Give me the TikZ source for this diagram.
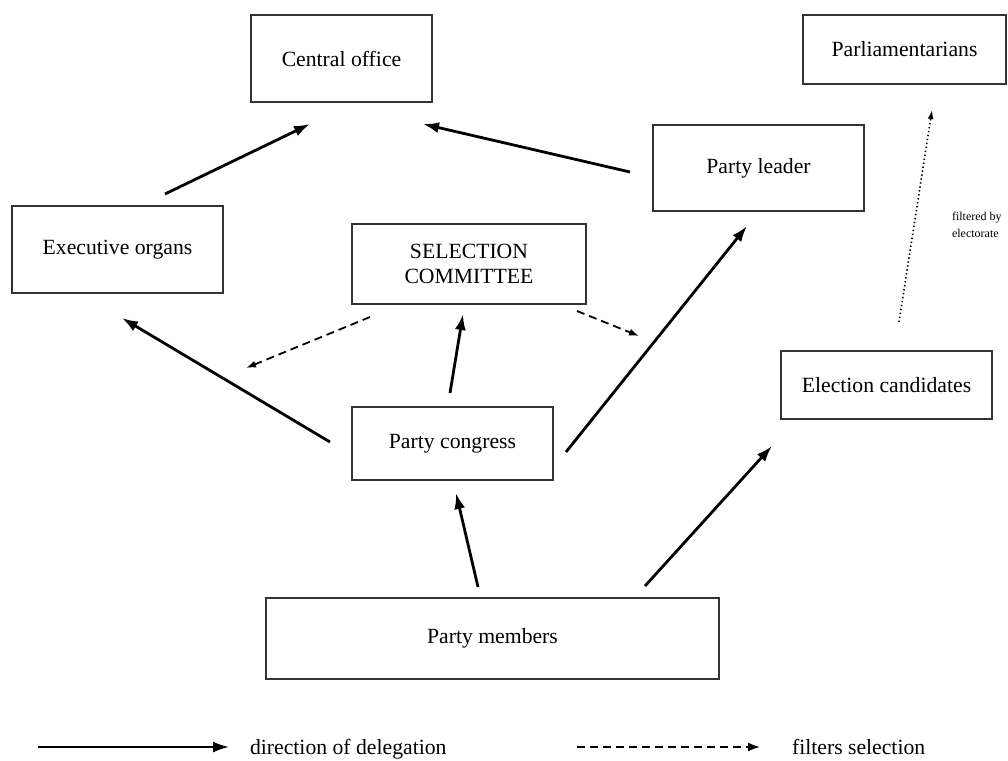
\documentclass[tikz,border=0pt]{standalone}
\usepackage{fontspec}
\setmainfont{Liberation Serif}
\usetikzlibrary{arrows.meta}

\begin{document}
\begin{tikzpicture}[x=0.5pt,y=-0.5pt,font=\fontsize{10.85}{12.5}\selectfont,
  box/.style={draw=black!80,line width=0.7pt,inner sep=0pt,align=center},
  deleg/.style={line width=1.4pt,-{Latex[length=8pt,width=5.5pt]}},
  filt/.style={line width=0.9pt,dash pattern=on 4pt off 2.5pt,-{Latex[length=5pt,width=3.5pt]}},
  elect/.style={line width=0.8pt,dash pattern=on 0.7pt off 1.3pt,-{Latex[length=4.5pt,width=3pt]}}]
\useasboundingbox (0,0) rectangle (1008,761);
%Node Coordinates
\node at (341.5,58.5) [box,minimum width=90.5pt,minimum height=43.5pt] (Central) {Central office};
\node at (904.5,49.5) [box,minimum width=101.5pt,minimum height=34.5pt] (Parl) {Parliamentarians};
\node at (758.5,168) [box,minimum width=105.5pt,minimum height=43pt] (Leader) {Party leader};
\node at (117.5,249.5) [box,minimum width=105.5pt,minimum height=43.5pt] (Exec) {Executive organs};
\node at (469,264) [box,minimum width=117pt,minimum height=40pt] (Sel) {SELECTION\\COMMITTEE};
\node at (886.5,385) [box,minimum width=105.5pt,minimum height=34pt] (Cand) {Election candidates};
\node at (452.5,443.5) [box,minimum width=100.5pt,minimum height=36.5pt] (Congress) {Party congress};
\node at (492.5,638.5) [box,minimum width=226.5pt,minimum height=40.5pt] (Members) {Party members};

%Arrow Ends
\coordinate (ExecOut) at (165,194);
\coordinate (CentralInL) at (310,124);
\coordinate (LeaderOut) at (630,172);
\coordinate (CentralInR) at (423,124);
\coordinate (CongressOutL) at (330,442);
\coordinate (ExecIn) at (122,318);
\coordinate (CongressOutU) at (450,393);
\coordinate (SelIn) at (463,314);
\coordinate (CongressOutR) at (566,452);
\coordinate (LeaderIn) at (747,226);
\coordinate (MembersOutL) at (478,587);
\coordinate (CongressIn) at (456,493);
\coordinate (MembersOutR) at (645,586);
\coordinate (CandIn) at (772,446);
\coordinate (SelOutL) at (370,317);
\coordinate (ExecFilt) at (246,368);
\coordinate (SelOutR) at (577,311);
\coordinate (LeaderFilt) at (639,336);
\coordinate (CandOut) at (899,322);
\coordinate (ParlIn) at (932,110);

%Connections
\draw [deleg] (ExecOut) -- (CentralInL);
\draw [deleg] (LeaderOut) -- (CentralInR);
\draw [deleg] (CongressOutL) -- (ExecIn);
\draw [deleg] (CongressOutU) -- (SelIn);
\draw [deleg] (CongressOutR) -- (LeaderIn);
\draw [deleg] (MembersOutL) -- (CongressIn);
\draw [deleg] (MembersOutR) -- (CandIn);
\draw [filt] (SelOutL) -- (ExecFilt);
\draw [filt] (SelOutR) -- (LeaderFilt);
\draw [elect] (CandOut) -- (ParlIn);
\node at (945,225) [anchor=west,align=left,font=\fontsize{6}{8.5}\selectfont] (Filtered) {filtered by\\electorate};

%Legend
\coordinate (KeyA) at (38,747);
\coordinate (KeyB) at (229,747);
\coordinate (KeyC) at (577,747);
\coordinate (KeyD) at (760,747);
\draw [deleg,line width=1.1pt] (KeyA) -- (KeyB);
\draw [filt,-{Latex[length=6pt,width=4.5pt]}] (KeyC) -- (KeyD);
\node at (243,754) [anchor=base west] (KeyDeleg) {direction of delegation};
\node at (785,754) [anchor=base west] (KeyFilt) {filters selection};
\end{tikzpicture}
\end{document}
